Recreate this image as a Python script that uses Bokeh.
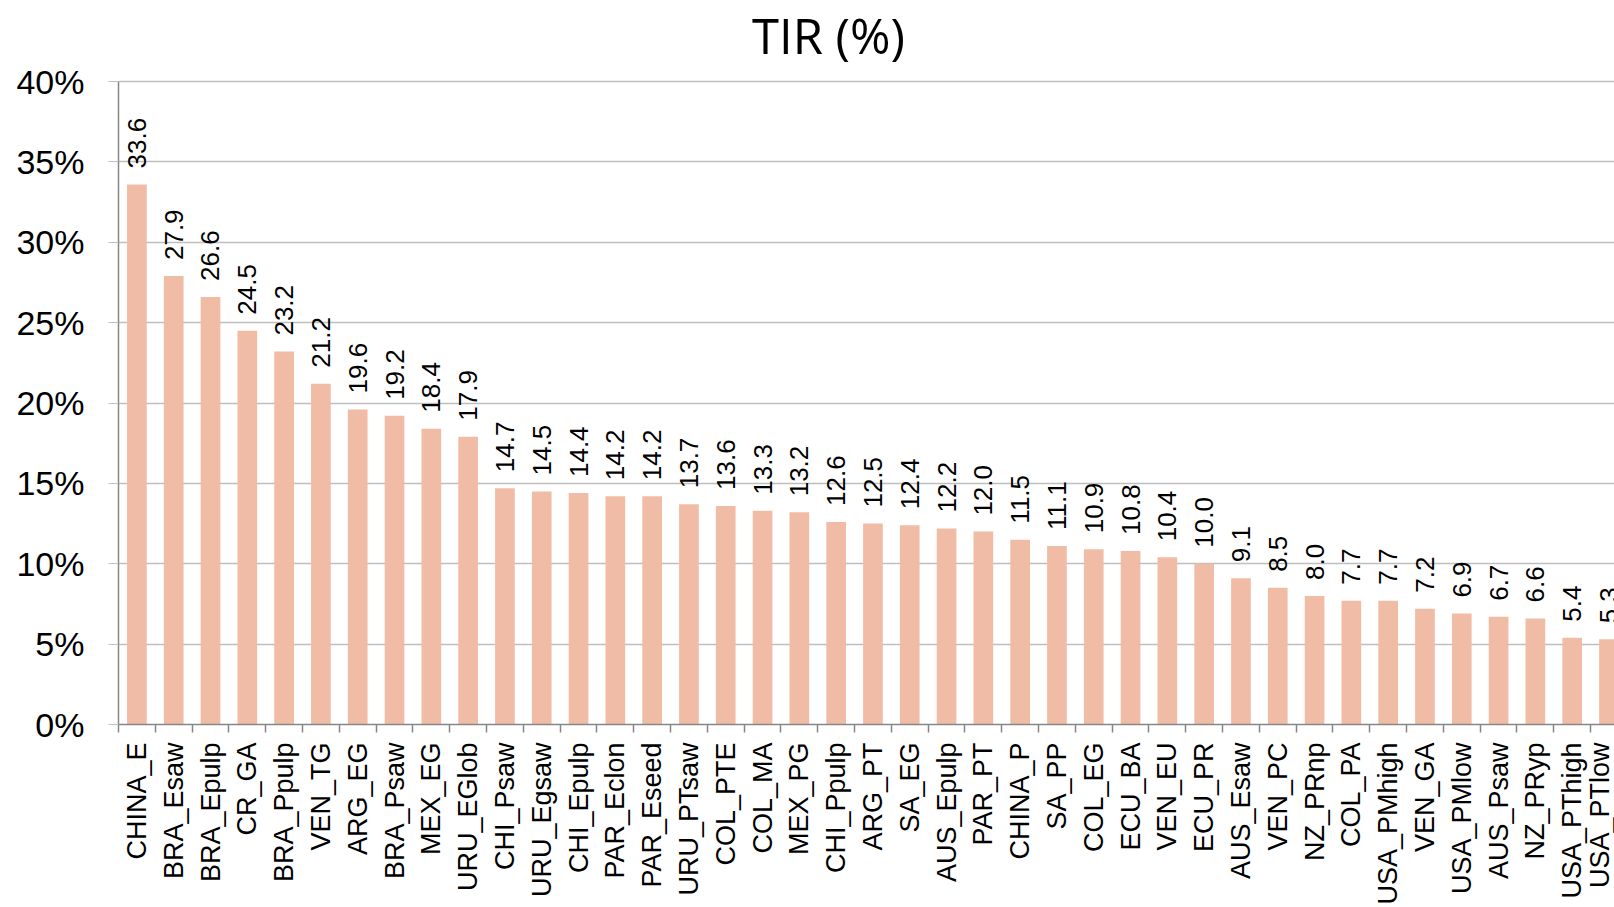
from bokeh.plotting import figure
from bokeh.models import Range1d, FixedTicker, ColumnDataSource, LabelSet, Label, NumeralTickFormatter
from bokeh.core.properties import value
from bokeh.embed import file_html
from bokeh.resources import INLINE
import math

title_text = "TIR (%)"
categories = ["CHINA_E", "BRA_Esaw", "BRA_Epulp", "CR_GA", "BRA_Ppulp", "VEN_TG", "ARG_EG",
              "BRA_Psaw", "MEX_EG", "URU_EGlob", "CHI_Psaw", "URU_Egsaw", "CHI_Epulp",
              "PAR_Eclon", "PAR_Eseed", "URU_PTsaw", "COL_PTE", "COL_MA", "MEX_PG",
              "CHI_Ppulp", "ARG_PT", "SA_EG", "AUS_Epulp", "PAR_PT", "CHINA_P", "SA_PP",
              "COL_EG", "ECU_BA", "VEN_EU", "ECU_PR", "AUS_Esaw", "VEN_PC", "NZ_PRnp",
              "COL_PA", "USA_PMhigh", "VEN_GA", "USA_PMlow", "AUS_Psaw", "NZ_PRyp",
              "USA_PThigh", "USA_PTlow"]
tir = [33.6, 27.9, 26.6, 24.5, 23.2, 21.2, 19.6, 19.2, 18.4, 17.9, 14.7, 14.5, 14.4,
       14.2, 14.2, 13.7, 13.6, 13.3, 13.2, 12.6, 12.5, 12.4, 12.2, 12.0, 11.5, 11.1,
       10.9, 10.8, 10.4, 10.0, 9.1, 8.5, 8.0, 7.7, 7.7, 7.2, 6.9, 6.7, 6.6, 5.4, 5.3]
y_ticks = [0, 5, 10, 15, 20, 25, 30, 35, 40]

pos = [i + 1 for i in range(len(categories))]
src = ColumnDataSource(dict(x=pos, y=tir, lab=[f"{v:.1f}" for v in tir]))

W, H = 1614, 907
# frame spans the whole top of the canvas; the axis is bounded to 0..40
y_top = 40 * (724 / 643)
p = figure(width=W, height=H, output_backend="svg", toolbar_location=None,
           x_range=Range1d(0.5, 41.15), y_range=Range1d(0, y_top),
           min_border_left=118, min_border_right=0, min_border_top=0, min_border_bottom=183)
p.outline_line_color = None
p.background_fill_color = "white"
p.border_fill_color = "white"

p.vbar(x="x", top="y", width=0.535, source=src, fill_color="#F1BCA5", line_color=None)

labels = LabelSet(x="x", y="y", text="lab", source=src, angle=math.pi / 2,
                  text_align="left", text_baseline="middle", y_offset=16,
                  text_font=value("Liberation Sans"), text_font_size=value("26px"),
                  text_color="#000000")
p.add_layout(labels)

# x axis
p.xaxis.ticker = FixedTicker(ticks=pos, minor_ticks=[i + 0.5 for i in range(len(categories) + 1)])
p.xaxis.major_label_overrides = {i + 1: c for i, c in enumerate(categories)}
p.xaxis.major_label_orientation = math.pi / 2
p.xaxis.major_tick_line_color = None
p.xaxis.major_tick_out = 8
p.xaxis.major_tick_in = 0
p.xaxis.minor_tick_out = 8
p.xaxis.minor_tick_in = 0
p.xaxis.minor_tick_line_color = "#868686"
p.xaxis.minor_tick_line_width = 1.5
p.xaxis.axis_line_color = "#868686"
p.xaxis.axis_line_width = 1.5
p.xaxis.major_label_standoff = 10
p.xaxis.major_label_text_font = "Liberation Sans"
p.xaxis.major_label_text_font_size = "27px"
p.xaxis.major_label_text_color = "#000000"
p.xgrid.grid_line_color = None

# y axis
p.yaxis.bounds = (0, 40)
p.yaxis.ticker = FixedTicker(ticks=y_ticks)
p.yaxis.formatter = NumeralTickFormatter(format="0")
p.yaxis.major_label_overrides = {t: f"{t}%" for t in y_ticks}
p.yaxis.axis_line_color = "#868686"
p.yaxis.axis_line_width = 1.5
p.yaxis.major_tick_line_color = "#BEBEBE"
p.yaxis.major_tick_out = 10
p.yaxis.major_tick_in = 0
p.yaxis.minor_tick_line_color = None
p.yaxis.major_label_standoff = 24
p.yaxis.major_label_text_font = "Liberation Sans"
p.yaxis.major_label_text_font_size = "34px"
p.yaxis.major_label_text_color = "#000000"
p.ygrid.grid_line_color = "#BEBEBE"
p.ygrid.grid_line_width = 1.5

title = Label(x=710, y=690, x_units="screen", y_units="screen", text=title_text,
              text_align="center", text_baseline="alphabetic",
              text_font="Open Sans", text_font_size="49px", text_color="#000000")
p.add_layout(title)

open("out.html", "w").write(file_html(p, INLINE))
